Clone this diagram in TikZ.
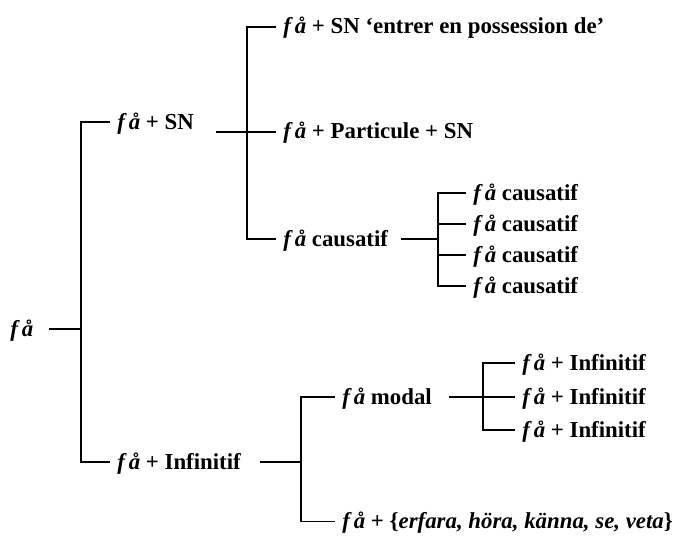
\documentclass[tikz,border=0pt]{standalone}
\usepackage{fontspec}
\setmainfont{Liberation Serif}
\usetikzlibrary{calc}
\newcommand{\faverb}{\textit{f\,å}}

\begin{document}
\begin{tikzpicture}[
        lbl/.style={anchor=west, inner xsep=0.14cm, inner ysep=0pt,
                    text height=0.33cm, text depth=0.05cm,
                    font=\fontsize{13}{16}\selectfont\bfseries},
        branch/.style={line width=0.8pt}
      ]
        \useasboundingbox (0,0) rectangle (13.74,10.70);
        % first level
        \node[lbl] (root) at (0.06, 4.12) {\faverb};
        \node[lbl] (sn)   at (2.20, 8.26) {\faverb{} + SN};
        \node[lbl] (inf)  at (2.20, 1.46) {\faverb{} + Infinitif};
        % f\aa{} + SN
        \node[lbl] (poss) at (5.52,10.16) {\faverb{} + SN ‘entrer en possession de’};
        \node[lbl] (part) at (5.52, 8.06) {\faverb{} + Particule + SN};
        \node[lbl] (caus) at (5.52, 5.92) {\faverb{} causatif};
        \node[lbl] (cs1)  at (9.32, 6.84) {\faverb{} causatif};
        \node[lbl] (cs2)  at (9.32, 6.22) {\faverb{} causatif};
        \node[lbl] (cs3)  at (9.32, 5.60) {\faverb{} causatif};
        \node[lbl] (cs4)  at (9.32, 4.98) {\faverb{} causatif};
        % f\aa{} + Infinitif
        \node[lbl] (modal) at (6.70, 2.76) {\faverb{} modal};
        \node[lbl] (erf)   at (6.70, 0.27) {\faverb{} + \{\textit{erfara, höra, känna, se, veta}\}};
        \node[lbl] (md1)   at (10.30, 3.44) {\faverb{} + Infinitif};
        \node[lbl] (md2)   at (10.30, 2.76) {\faverb{} + Infinitif};
        \node[lbl] (md3)   at (10.30, 2.10) {\faverb{} + Infinitif};

        \coordinate (bRoot)  at (1.62, 4.12);
        \coordinate (bSN)    at (4.94, 8.06);
        \coordinate (bCaus)  at (8.76, 5.92);
        \coordinate (bInf)   at (6.02, 1.46);
        \coordinate (bModal) at (9.66, 2.76);

        \draw[branch] ([xshift=0.16cm]root.east) -- (bRoot);
        \draw[branch] (sn.west) -| (bRoot) |- (inf.west);

        \draw[branch] ($(sn.east |- part.west)+(0.3,0)$) -- (part.west);
        \draw[branch] (poss.west) -| (bSN) |- (caus.west);

        \draw[branch] ([xshift=0.12cm]caus.east) -- (bCaus);
        \draw[branch] (cs1.west) -| (bCaus) |- (cs4.west);
        \draw[branch] (cs2.west) -- (cs2.west -| bCaus);
        \draw[branch] (cs3.west) -- (cs3.west -| bCaus);

        \draw[branch] ([xshift=0.24cm]inf.east) -- (bInf);
        \draw[branch] (modal.west) -| (bInf) |- (erf.west);

        \draw[branch] ([xshift=0.2cm]modal.east) -- (md2.west);
        \draw[branch] (md1.west) -| (bModal) |- (md3.west);
      \end{tikzpicture}
\end{document}
